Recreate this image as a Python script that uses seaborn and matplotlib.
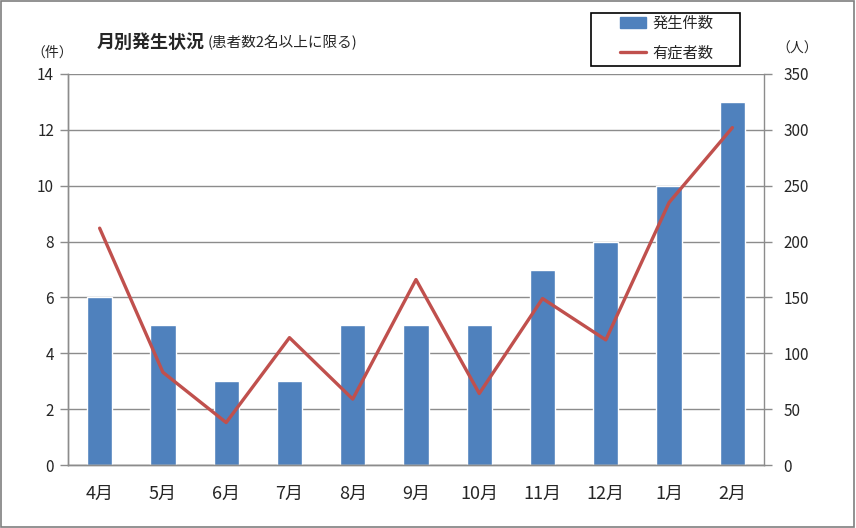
import numpy as np
import pandas as pd
import matplotlib
matplotlib.use("Agg")
import matplotlib.pyplot as plt
import seaborn as sns
from matplotlib.patches import Patch, Rectangle
from matplotlib.lines import Line2D

# data
months = ["4月", "5月", "6月", "7月", "8月", "9月", "10月", "11月", "12月", "1月", "2月"]
cases = [6, 5, 3, 3, 5, 5, 5, 7, 8, 10, 13]
patients = [212, 83, 38, 114, 59, 166, 64, 149, 112, 235, 302]

bar_color = "#4F81BD"
line_color = "#C0504D"
grid_color = "#8c8c8c"

sns.set_style("white")
plt.rcParams["font.family"] = ["Noto Sans CJK JP", "DejaVu Sans"]

df = pd.DataFrame({"month": months, "cases": cases, "patients": patients})

fig = plt.figure(figsize=(8.56, 5.28), dpi=100)
ax = fig.add_axes([68 / 856, 63 / 528, 696 / 856, 391 / 528])

sns.barplot(data=df, x="month", y="cases", color=bar_color, width=0.4,
            saturation=1, ax=ax, zorder=2)
ax.set_ylim(0, 14)
ax.set_yticks(range(0, 15, 2))
ax.set_xlim(-0.5, len(months) - 0.5)
ax.yaxis.grid(True, color=grid_color, linewidth=1.0, zorder=0)
ax.set_axisbelow(True)
ax.set_xlabel("")
ax.set_ylabel("")

# category boundaries get the tick marks, labels stay centred
ax.set_xticks(np.arange(len(months)))
ax.set_xticklabels(months, fontsize=13)
ax.set_xticks(np.arange(-0.5, len(months), 1), minor=True)
ax.tick_params(axis="x", which="major", length=0, pad=14)
ax.tick_params(axis="x", which="minor", length=6, color=grid_color, width=1)
ax.tick_params(axis="y", length=6, color=grid_color, width=1, labelsize=11, pad=4)

ax2 = ax.twinx()
sns.lineplot(data=df, x="month", y="patients", sort=False, color=line_color,
             linewidth=2.4, ax=ax2)
ax2.set_ylim(0, 350)
ax2.set_yticks(range(0, 351, 50))
ax2.set_ylabel("")
ax2.tick_params(axis="y", length=6, color=grid_color, width=1, labelsize=11, pad=8)
ax2.set_xlim(-0.5, len(months) - 0.5)

for a in (ax, ax2):
    a.spines["top"].set_visible(False)
    for s in ("left", "right", "bottom"):
        a.spines[s].set_color(grid_color)
        a.spines[s].set_linewidth(1.0)
ax.spines["right"].set_visible(False)

# title and units
fig.text(97 / 856, 1 - 42 / 528, "月別発生状況", fontsize=13, fontweight="bold",
         va="center", ha="left")
fig.text(208 / 856, 1 - 43 / 528, "(患者数2名以上に限る)", fontsize=10.5,
         va="center", ha="left")
fig.text(52 / 856, 1 - 53 / 528, "（件）", fontsize=10, va="center", ha="center")
fig.text(797 / 856, 1 - 49 / 528, "（人）", fontsize=10, va="center", ha="center")

# legend without its own frame; the box is drawn separately
handles = [Patch(facecolor=bar_color, edgecolor=bar_color),
           Line2D([0], [0], color=line_color, linewidth=2.4)]
fig.legend(handles, ["発生件数", "有症者数"], loc="center left",
           bbox_to_anchor=(620 / 856, 1 - 38 / 528), fontsize=11,
           frameon=False, labelspacing=0.8, handlelength=1.7,
           handletextpad=0.4, borderaxespad=0, borderpad=0.0)
fig.patches.append(Rectangle((591 / 856, 1 - 66 / 528), 149 / 856, 53 / 528,
                             transform=fig.transFigure, fill=False,
                             edgecolor="black", linewidth=1.2, zorder=5))

# outer chart border
fig.patches.append(Rectangle((0.001, 0.001), 0.997, 0.997, transform=fig.transFigure,
                             fill=False, edgecolor="#7f7f7f", linewidth=1.2))

fig.savefig("out.png", dpi=100)
